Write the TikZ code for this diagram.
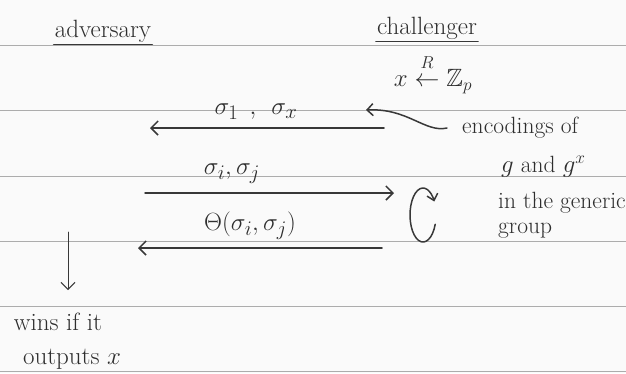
\documentclass[tikz,border=0pt]{standalone}
\usepackage{amsmath,amssymb}
\usetikzlibrary{arrows.meta,positioning}

\begin{document}
\begin{tikzpicture}[x=1pt, y=-1pt,
  font=\fontsize{25}{29}\selectfont,
  rule/.style={gray!65, line width=0.8pt},
  pen/.style={black!78, line width=1.5pt, line cap=round},
  arr/.style={pen, -{Straight Barb[length=7pt, width=14pt]}},
  lbl/.style={inner sep=1pt, text=black!82},
  msg/.style={lbl, font=\fontsize{29}{32}\selectfont},
  note/.style={lbl, anchor=west, font=\fontsize{23.5}{27}\selectfont}]
  \useasboundingbox[fill=gray!4] (0,0) rectangle (626,373);
  % ruled paper
  \foreach \y in {45,110.5,176,241,306,371}
    \draw[rule] (0,\y) -- (626,\y);
  % parties
  \node[lbl] (adv) at (103,31) {adversary};
  \node[lbl] (chal) at (427,28) {challenger};
  \draw[pen] ([yshift=-1pt]adv.south west) -- ([yshift=-1pt]adv.south east);
  \draw[pen] ([yshift=-1pt]chal.south west) -- ([yshift=-1pt]chal.south east);
  \node[lbl] (samp) at (433,74) {$x \mathrel{\overset{\raisebox{4pt}{$\scriptstyle R$}}{\leftarrow}} \mathbb{Z}_p$};
  % messages
  \coordinate (m1r) at (384,128); \coordinate (m1l) at (150,128);
  \coordinate (m2l) at (145,193); \coordinate (m2r) at (394,193);
  \coordinate (m3r) at (382,248); \coordinate (m3l) at (138,248);
  \draw[arr] (m1r) -- (m1l);
  \draw[arr] (m2l) -- (m2r);
  \draw[arr] (m3r) -- (m3l);
  \node[msg] (enc1) at (256,112) {$\sigma_1\;\,,\;\,\sigma_x$};
  \node[msg] (qry) at (232,174) {$\sigma_i, \sigma_j$};
  \node[msg] (ans) at (250,226) {$\Theta(\sigma_i, \sigma_j)$};
  % remark on the encodings
  \node[note] (enc) at (461,128) {encodings of};
  \node[note] (gx) at (500,167) {$g$ and $g^x$};
  \node[note] (gen) at (497,203) {in the generic};
  \node[note] (grp) at (497,231) {group};
  \coordinate (ctip) at (366,110);
  \draw[pen, -{Straight Barb[length=6pt, width=12pt]}] ([xshift=-14pt]enc.west)
    .. controls (425,133) and (408,108) .. (ctip);
  % challenger computes
  \coordinate (loopc) at (423,215);
  \draw[pen, -{Straight Barb[length=6pt, width=11pt]}] ([shift={(20:13 and 27)}]loopc)
    arc[start angle=20, end angle=330, x radius=13, y radius=27];
  % outcome
  \coordinate (d0) at (68,232); \coordinate (d1) at (68,290);
  \draw[pen, line width=1pt, -{Straight Barb[length=7pt, width=14pt]}] (d0) -- (d1);
  \node[lbl] (wins) at (58,322) {wins if it};
  \node[lbl] (outp) at (72,359) {outputs $x$};
\end{tikzpicture}
\end{document}
